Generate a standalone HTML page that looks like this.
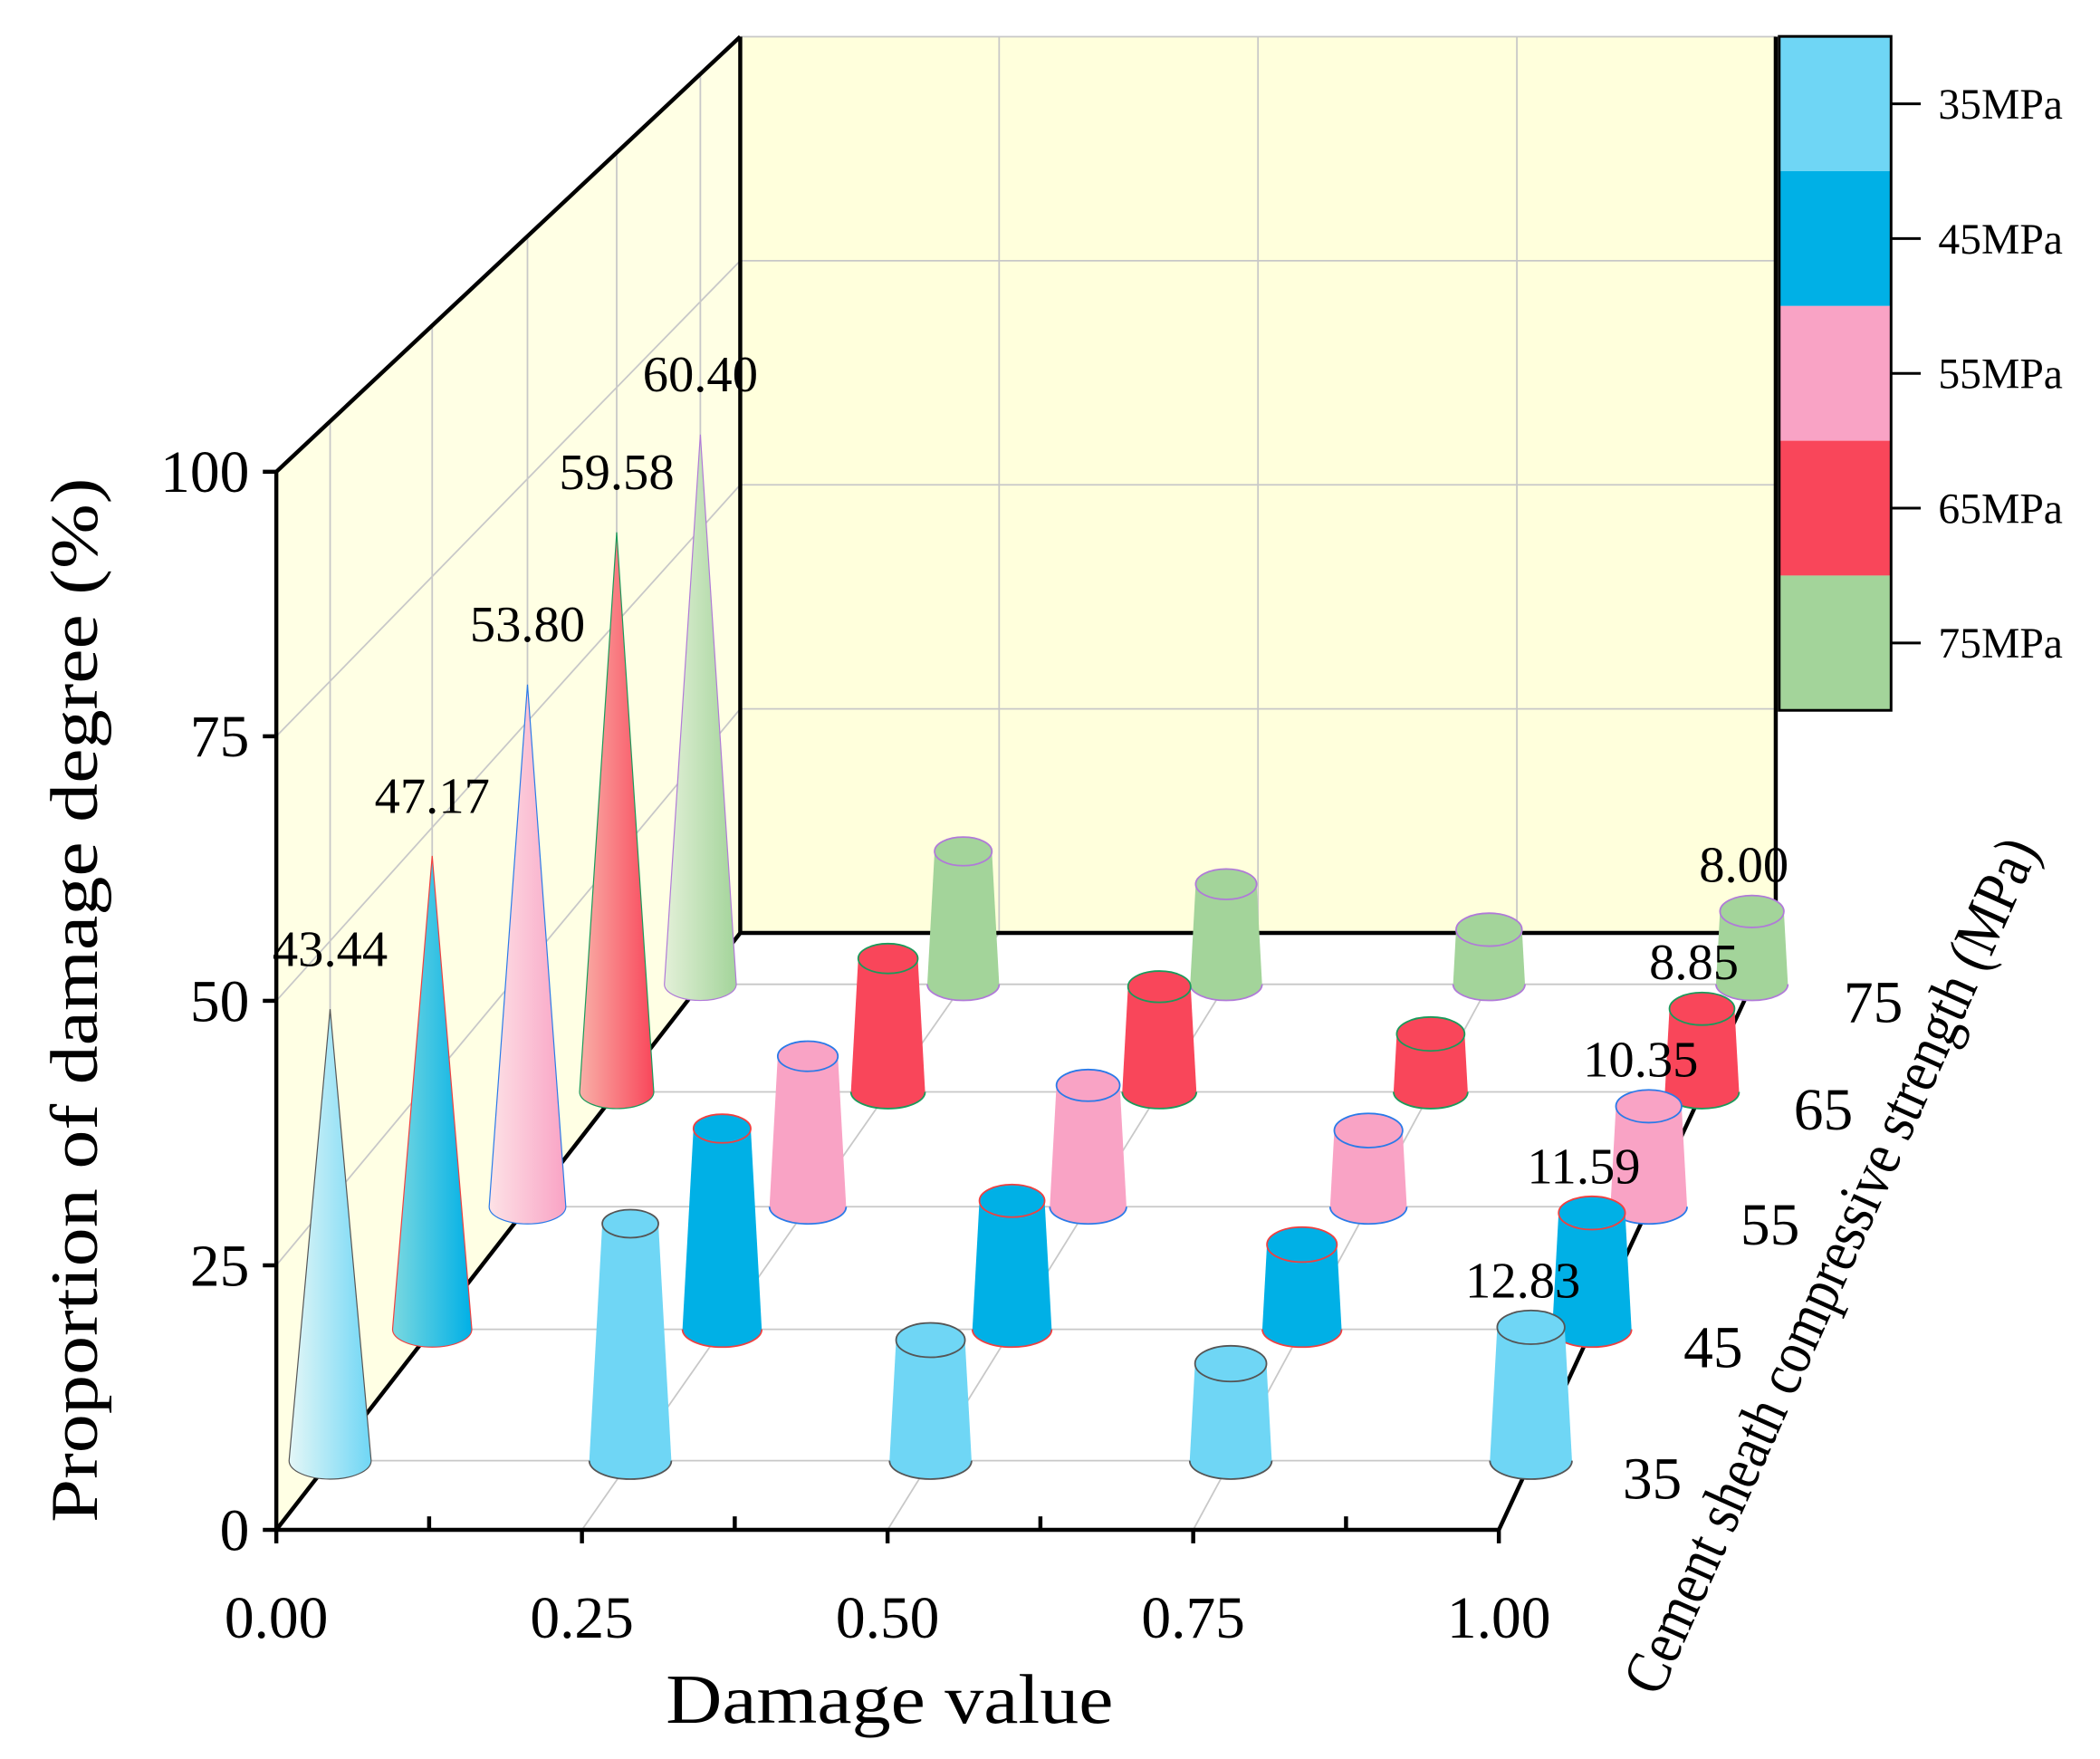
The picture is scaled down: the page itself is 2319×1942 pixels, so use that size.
<!DOCTYPE html>
<html><head><meta charset="utf-8"><style>
html,body{margin:0;padding:0;background:#fff;}
svg{display:block;}
text{font-family:"Liberation Serif",serif;fill:#000;}
</style></head><body>
<svg id="chart" width="2319" height="1942" viewBox="0 0 1558 1305" preserveAspectRatio="none" xmlns="http://www.w3.org/2000/svg">
<defs>
<linearGradient id="g0" x1="0" x2="1" y1="0" y2="0"><stop offset="0" stop-color="#e4f7f7"/><stop offset="1" stop-color="#6fd6f5"/></linearGradient>
<linearGradient id="g1" x1="0" x2="1" y1="0" y2="0"><stop offset="0" stop-color="#7ad8e0"/><stop offset="1" stop-color="#00b0e6"/></linearGradient>
<linearGradient id="g2" x1="0" x2="1" y1="0" y2="0"><stop offset="0" stop-color="#fde2e6"/><stop offset="1" stop-color="#f9a3c5"/></linearGradient>
<linearGradient id="g3" x1="0" x2="1" y1="0" y2="0"><stop offset="0" stop-color="#f9b0a8"/><stop offset="1" stop-color="#f9465a"/></linearGradient>
<linearGradient id="g4" x1="0" x2="1" y1="0" y2="0"><stop offset="0" stop-color="#e3f0d8"/><stop offset="1" stop-color="#a3d49a"/></linearGradient>
</defs>
<g id="walls"></g>
<g id="marks"></g>
<g id="labels"></g>
<text x="0" y="0" transform="translate(72,742) rotate(-90)" font-size="50" text-anchor="middle" textLength="775" lengthAdjust="spacingAndGlyphs">Proportion of damage degree (%)</text>
<text x="660" y="1278" font-size="52" text-anchor="middle" textLength="332" lengthAdjust="spacingAndGlyphs">Damage value</text>
<g transform="translate(1372,945) rotate(-65.9)"><text x="0" y="0" font-size="46" font-style="normal" text-anchor="middle" transform="scale(0.86,1)">Cement sheath compressive strength (MPa)</text></g>
</svg>
<script>
const damageValues = [0, 0.25, 0.5, 0.75, 1.0];
const strengths = [35, 45, 55, 65, 75];
const s35 = [43.44, 22.8, 11.6, 9.33, 12.83];
const s45 = [47.17, 20.0, 12.8, 8.44, 11.59];
const s55 = [53.80, 15.5, 12.5, 7.85, 10.35];
const s65 = [59.58, 14.2, 11.2, 6.17, 8.85];
const s75 = [60.40, 14.6, 11.0, 6.00, 8.00];
const yTicks = [0, 25, 50, 75, 100];
const xTickLabels = ["0.00", "0.25", "0.50", "0.75", "1.00"];
const legendLabels = ["35MPa", "45MPa", "55MPa", "65MPa", "75MPa"];
const series = [s35, s45, s55, s65, s75];

const colors = ["#6fd6f5", "#00b0e6", "#f9a3c5", "#f9465a", "#a3d49a"];
const edges = ["#555", "#f04040", "#2a7ae8", "#1a9a5a", "#b07ad8"];
const NS = "http://www.w3.org/2000/svg";
const VX = 2455, VY = -1760, K = 0.1806;
const X0 = 205, XW = 907, Y0 = 1135, YH = 7.85;
function sc(t){ return 1/(1+K*t); }
function proj(x, t, v){
  const fx = X0 + x*XW, fy = Y0 - v*YH, s = sc(t);
  return [VX + (fx-VX)*s, VY + (fy-VY)*s];
}
function rowT(i){ return (i+0.5)/strengths.length; }
function mk(tag, attrs, parent){
  const e = document.createElementNS(NS, tag);
  for (const k in attrs) e.setAttribute(k, attrs[k]);
  parent.appendChild(e); return e;
}
const walls = document.getElementById('walls');
const marks = document.getElementById('marks');
const labels = document.getElementById('labels');
const P = (a)=>a.map(p=>p.join(',')).join(' ');

let bw = mk('polygon', {points:P([proj(0,1,0),proj(1,1,0),proj(1,1,100),proj(0,1,100)]), fill:'#ffffdc', stroke:'none'}, walls);
 
let lw = mk('polygon', {points:P([proj(0,0,0),proj(0,1,0),proj(0,1,100),proj(0,0,100)]), fill:'#ffffe4', stroke:'none'}, walls);
 
const gs = {stroke:'#c8c8c8','stroke-width':1.2};
yTicks.forEach(v=>{ const a=proj(0,1,v), b=proj(1,1,v); mk('line',Object.assign({x1:a[0],y1:a[1],x2:b[0],y2:b[1]},gs),walls); });
damageValues.forEach(x=>{ const a=proj(x,1,0), b=proj(x,1,100); mk('line',Object.assign({x1:a[0],y1:a[1],x2:b[0],y2:b[1]},gs),walls); });
yTicks.forEach(v=>{ const a=proj(0,0,v), b=proj(0,1,v); mk('line',Object.assign({x1:a[0],y1:a[1],x2:b[0],y2:b[1]},gs),walls); });
strengths.forEach((s,i)=>{ const a=proj(0,rowT(i),0), b=proj(0,rowT(i),100); mk('line',Object.assign({x1:a[0],y1:a[1],x2:b[0],y2:b[1]},gs),walls); });
damageValues.forEach(x=>{ const a=proj(x,0,0), b=proj(x,1,0); mk('line',Object.assign({x1:a[0],y1:a[1],x2:b[0],y2:b[1]},gs),walls); });
strengths.forEach((s,i)=>{ const a=proj(0,rowT(i),0), b=proj(1,rowT(i),0); mk('line',Object.assign({x1:a[0],y1:a[1],x2:b[0],y2:b[1]},gs),walls); });
const ax = {stroke:'#000','stroke-width':3,fill:'none'};
function axLine(a,b,name){ const l=mk('line',Object.assign({x1:a[0],y1:a[1],x2:b[0],y2:b[1]},ax),walls);   }
axLine(proj(0,0,0),proj(1,0,0),'x-axis');
axLine(proj(0,0,0),proj(0,0,100),'y-axis');
axLine(proj(0,0,100),proj(0,1,100),'left-wall-top-edge');
axLine(proj(0,1,0),proj(0,1,100),'back-wall-left-edge');
axLine(proj(0,0,0),proj(0,1,0),'left-floor-edge');
axLine(proj(0,1,0),proj(1,1,0),'back-floor-edge');
axLine(proj(1,1,0),proj(1,1,100),'back-wall-right-edge');
axLine(proj(1,0,0),proj(1,1,0),'depth-axis');
yTicks.forEach(v=>{ const a=proj(0,0,v);
  mk('line',{x1:a[0]-10,y1:a[1],x2:a[0],y2:a[1],stroke:'#000','stroke-width':3},walls);
  const t=mk('text',{x:a[0]-20,y:a[1]+15,'font-size':44,'text-anchor':'end'},labels); t.textContent=v;
    });
for(let i=0;i<=8;i++){ const a=proj(i/8,0,0); mk('line',{x1:a[0],y1:a[1],x2:a[0],y2:a[1]+(i%2?-10:10),stroke:'#000','stroke-width':3},walls); }
damageValues.forEach((x,i)=>{ const a=proj(x,0,0);
  const t=mk('text',{x:a[0],y:a[1]+80,'font-size':44,'text-anchor':'middle'},labels); t.textContent=xTickLabels[i];
    });
strengths.forEach((s,i)=>{ const a=proj(1,rowT(i),0);
  mk('line',{x1:a[0],y1:a[1],x2:a[0]+12,y2:a[1],stroke:'#000','stroke-width':3},walls);
  const t=mk('text',{x:a[0]+68,y:a[1]+28,'font-size':44,'text-anchor':'start'},labels); t.textContent=s;
    });

const R = 31, HC = 72;
for(let i=strengths.length-1;i>=0;i--){
  const t = rowT(i), s = sc(t);
  series[i].forEach((v,j)=>{
    const x = damageValues[j];
    const b = proj(x,t,0), tp = proj(x,t,v);
    const rb = R*s, ryb = rb*0.45;
    const g = mk('g',{},marks);
    if(j===0){
      
      
      mk('path',{d:`M${b[0]-rb},${b[1]} L${tp[0]},${tp[1]} L${b[0]+rb},${b[1]} A${rb},${ryb} 0 0 1 ${b[0]-rb},${b[1]} Z`,fill:`url(#g${i})`,stroke:edges[i],'stroke-width':0.8},g);
    } else {
      
      
      const rt = rb*Math.max(0.3,1-v/HC), ryt = rt*0.5;
      mk('path',{d:`M${b[0]-rb},${b[1]} L${tp[0]-rt},${tp[1]} L${tp[0]+rt},${tp[1]} L${b[0]+rb},${b[1]} A${rb},${ryb} 0 0 1 ${b[0]-rb},${b[1]} Z`,fill:colors[i],stroke:'none'},g);
      mk('path',{d:`M${b[0]+rb},${b[1]} A${rb},${ryb} 0 0 1 ${b[0]-rb},${b[1]}`,fill:'none',stroke:edges[i],'stroke-width':1.2},g);
      mk('ellipse',{cx:tp[0],cy:tp[1],rx:rt,ry:ryt,fill:colors[i],stroke:edges[i],'stroke-width':1.2},g);
    }
    if(j===0 || j===damageValues.length-1){
      const lt = mk('text',{x:tp[0]+(j===0?0:-6),y:tp[1]-(j===0?32:22),'font-size':38,'text-anchor':'middle'},labels);
      lt.textContent = v.toFixed(2);
      
      
    }
  });
}
for(let i=0;i<5;i++){
  const r = mk('rect',{x:1320,y:27+i*100,width:83,height:100,fill:colors[i]},labels);
  
  
  mk('line',{x1:1403,y1:77+i*100,x2:1425,y2:77+i*100,stroke:'#000','stroke-width':2},labels);
  const t = mk('text',{x:1438,y:88+i*100,'font-size':32},labels); t.textContent = legendLabels[i];
  
  
}
const lb = mk('rect',{x:1320,y:27,width:83,height:500,fill:'none',stroke:'#000','stroke-width':2},labels);


</script>
</body></html>
